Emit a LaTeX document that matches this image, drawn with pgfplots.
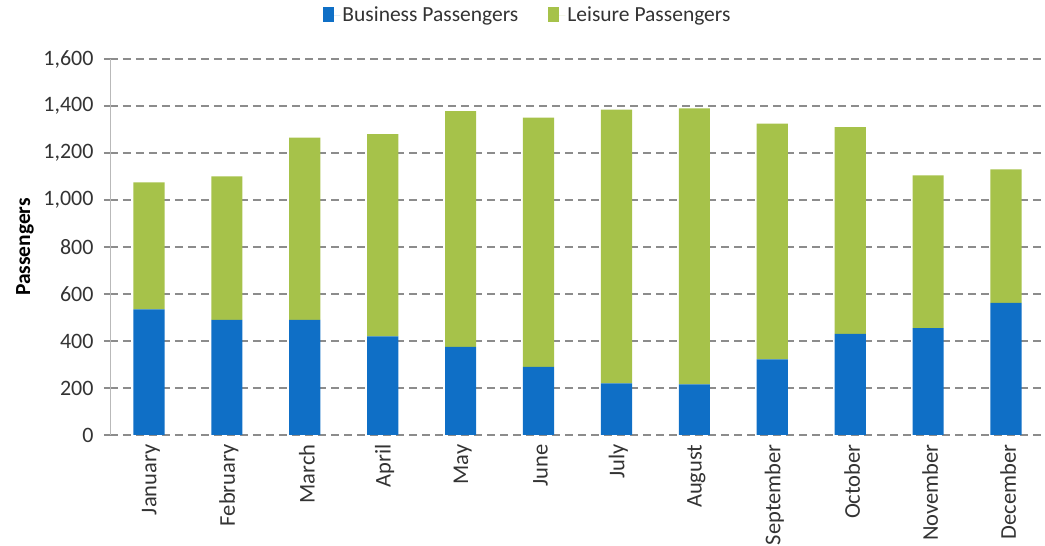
\documentclass[border=0pt]{standalone}
\usepackage{fontspec}
\setmainfont{Carlito}
\usepackage{pgfplots}
\pgfplotsset{compat=1.18}

\definecolor{bizblue}{HTML}{0F6FC6}
\definecolor{leisgreen}{HTML}{A6C24A}
\definecolor{gridgray}{HTML}{8C8C8C}

\begin{document}
\begin{tikzpicture}
\begin{axis}[
    scale only axis,
    width=935pt, height=376pt,
    ybar stacked,
    bar width=0.4,
    xmin=-0.5, xmax=11.5,
    ymin=0, ymax=1600,
    ytick={0,200,...,1600},
    xtick=data,
    xticklabels={January,February,March,April,May,June,July,August,September,October,November,December},
    axis y line=left, axis x line=bottom,
    axis line style={-},
    x axis line style={draw=none},
    y axis line style={draw=gray!55, line width=0.8pt},
    x tick style={draw=none},
    y tick style={draw=gridgray, line width=1.2pt},
    tick align=outside,
    major tick length=6pt,
    ymajorgrids,
    grid style={draw=gridgray, line width=1.5pt, dash pattern=on 8pt off 5pt},
    scaled y ticks=false,
    /pgf/number format/.cd, 1000 sep={,}, assume math mode=true, /pgfplots/.cd,
    tick label style={text=black!80},
    yticklabel style={xshift=-7pt, font=\fontsize{22}{26}\selectfont},
    xticklabel style={rotate=90, anchor=east, yshift=-2pt, font=\fontsize{22.5}{26}\selectfont},
    ylabel={\textbf{Passengers}},
    ylabel style={at={(axis description cs:-0.0909,0.5)}, anchor=center, font=\fontsize{21.5}{24}\selectfont},
    legend style={at={(axis description cs:0.447,1.117)}, anchor=center, draw=none,
        font=\fontsize{21.5}{24}\selectfont, text=black!80,
        /tikz/every even column/.append style={column sep=28pt}},
    legend columns=2,
    legend image code/.code={\path (0pt,0pt) -- (17pt,0pt); \fill[#1] (0pt,-7pt) rectangle (11pt,8pt);},
]
\addplot[fill=bizblue, draw=none] coordinates {
    (0,535) (1,490) (2,490) (3,420) (4,375) (5,290)
    (6,220) (7,215) (8,322) (9,430) (10,455) (11,562)
};
\addlegendentry{Business Passengers}
\addplot[fill=leisgreen, draw=none] coordinates {
    (0,540) (1,610) (2,775) (3,860) (4,1003) (5,1060)
    (6,1165) (7,1175) (8,1003) (9,880) (10,650) (11,568)
};
\addlegendentry{Leisure Passengers}
\end{axis}
\pgfresetboundingbox
\useasboundingbox (-110pt,-111pt) rectangle (935pt,376pt+59pt);
\end{tikzpicture}
\end{document}
